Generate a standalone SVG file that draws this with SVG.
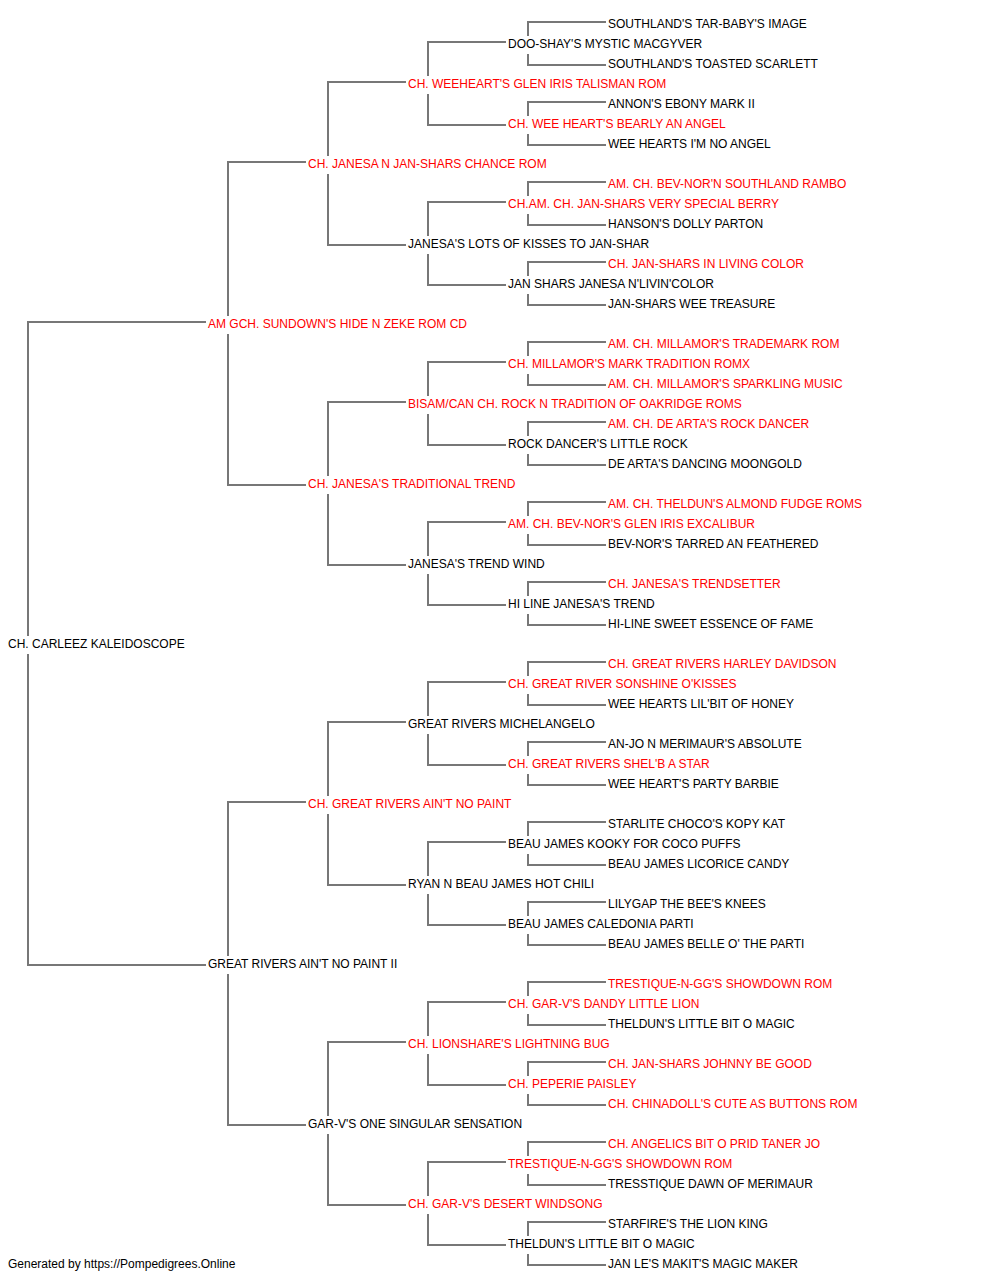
<svg xmlns="http://www.w3.org/2000/svg" width="1000" height="1280" viewBox="0 0 1000 1280">
<style>
text{font-family:"Liberation Sans",Arial,sans-serif;font-size:12px}
.r{fill:#ff0000}
.b{fill:#000000}
.c path{fill:none;stroke:#777777;stroke-width:2}
</style>
<rect width="1000" height="1280" fill="#ffffff"/>
<g id="connectors" class="c">
<path d="M28,636V322H206M28,654V965H206"/>
<path d="M228,316V162H306M228,334V485H306"/>
<path d="M228,956V802H306M228,974V1125H306"/>
<path d="M328,156V82H406M328,174V245H406"/>
<path d="M328,476V402H406M328,494V565H406"/>
<path d="M328,796V722H406M328,814V885H406"/>
<path d="M328,1116V1042H406M328,1134V1205H406"/>
<path d="M428,76V42H506M428,94V125H506"/>
<path d="M428,236V202H506M428,254V285H506"/>
<path d="M428,396V362H506M428,414V445H506"/>
<path d="M428,556V522H506M428,574V605H506"/>
<path d="M428,716V682H506M428,734V765H506"/>
<path d="M428,876V842H506M428,894V925H506"/>
<path d="M428,1036V1002H506M428,1054V1085H506"/>
<path d="M428,1196V1162H506M428,1214V1245H506"/>
<path d="M528,36V22H606M528,54V65H606"/>
<path d="M528,116V102H606M528,134V145H606"/>
<path d="M528,196V182H606M528,214V225H606"/>
<path d="M528,276V262H606M528,294V305H606"/>
<path d="M528,356V342H606M528,374V385H606"/>
<path d="M528,436V422H606M528,454V465H606"/>
<path d="M528,516V502H606M528,534V545H606"/>
<path d="M528,596V582H606M528,614V625H606"/>
<path d="M528,676V662H606M528,694V705H606"/>
<path d="M528,756V742H606M528,774V785H606"/>
<path d="M528,836V822H606M528,854V865H606"/>
<path d="M528,916V902H606M528,934V945H606"/>
<path d="M528,996V982H606M528,1014V1025H606"/>
<path d="M528,1076V1062H606M528,1094V1105H606"/>
<path d="M528,1156V1142H606M528,1174V1185H606"/>
<path d="M528,1236V1222H606M528,1254V1265H606"/>
</g>
<g id="n0"><text x="608" y="28" class="b">SOUTHLAND'S TAR-BABY'S IMAGE</text></g>
<g id="n1"><text x="508" y="48" class="b">DOO-SHAY'S MYSTIC MACGYVER</text></g>
<g id="n2"><text x="608" y="68" class="b">SOUTHLAND'S TOASTED SCARLETT</text></g>
<g id="n3"><text x="408" y="88" class="r">CH. WEEHEART'S GLEN IRIS TALISMAN ROM</text></g>
<g id="n4"><text x="608" y="108" class="b">ANNON'S EBONY MARK II</text></g>
<g id="n5"><text x="508" y="128" class="r">CH. WEE HEART'S BEARLY AN ANGEL</text></g>
<g id="n6"><text x="608" y="148" class="b">WEE HEARTS I'M NO ANGEL</text></g>
<g id="n7"><text x="308" y="168" class="r">CH. JANESA N JAN-SHARS CHANCE ROM</text></g>
<g id="n8"><text x="608" y="188" class="r">AM. CH. BEV-NOR'N SOUTHLAND RAMBO</text></g>
<g id="n9"><text x="508" y="208" class="r">CH.AM. CH. JAN-SHARS VERY SPECIAL BERRY</text></g>
<g id="n10"><text x="608" y="228" class="b">HANSON'S DOLLY PARTON</text></g>
<g id="n11"><text x="408" y="248" class="b">JANESA'S LOTS OF KISSES TO JAN-SHAR</text></g>
<g id="n12"><text x="608" y="268" class="r">CH. JAN-SHARS IN LIVING COLOR</text></g>
<g id="n13"><text x="508" y="288" class="b">JAN SHARS JANESA N'LIVIN'COLOR</text></g>
<g id="n14"><text x="608" y="308" class="b">JAN-SHARS WEE TREASURE</text></g>
<g id="n15"><text x="208" y="328" class="r">AM GCH. SUNDOWN'S HIDE N ZEKE ROM CD</text></g>
<g id="n16"><text x="608" y="348" class="r">AM. CH. MILLAMOR'S TRADEMARK ROM</text></g>
<g id="n17"><text x="508" y="368" class="r">CH. MILLAMOR'S MARK TRADITION ROMX</text></g>
<g id="n18"><text x="608" y="388" class="r">AM. CH. MILLAMOR'S SPARKLING MUSIC</text></g>
<g id="n19"><text x="408" y="408" class="r">BISAM/CAN CH. ROCK N TRADITION OF OAKRIDGE ROMS</text></g>
<g id="n20"><text x="608" y="428" class="r">AM. CH. DE ARTA'S ROCK DANCER</text></g>
<g id="n21"><text x="508" y="448" class="b">ROCK DANCER'S LITTLE ROCK</text></g>
<g id="n22"><text x="608" y="468" class="b">DE ARTA'S DANCING MOONGOLD</text></g>
<g id="n23"><text x="308" y="488" class="r">CH. JANESA'S TRADITIONAL TREND</text></g>
<g id="n24"><text x="608" y="508" class="r">AM. CH. THELDUN'S ALMOND FUDGE ROMS</text></g>
<g id="n25"><text x="508" y="528" class="r">AM. CH. BEV-NOR'S GLEN IRIS EXCALIBUR</text></g>
<g id="n26"><text x="608" y="548" class="b">BEV-NOR'S TARRED AN FEATHERED</text></g>
<g id="n27"><text x="408" y="568" class="b">JANESA'S TREND WIND</text></g>
<g id="n28"><text x="608" y="588" class="r">CH. JANESA'S TRENDSETTER</text></g>
<g id="n29"><text x="508" y="608" class="b">HI LINE JANESA'S TREND</text></g>
<g id="n30"><text x="608" y="628" class="b">HI-LINE SWEET ESSENCE OF FAME</text></g>
<g id="n31"><text x="8" y="648" class="b">CH. CARLEEZ KALEIDOSCOPE</text></g>
<g id="n32"><text x="608" y="668" class="r">CH. GREAT RIVERS HARLEY DAVIDSON</text></g>
<g id="n33"><text x="508" y="688" class="r">CH. GREAT RIVER SONSHINE O'KISSES</text></g>
<g id="n34"><text x="608" y="708" class="b">WEE HEARTS LIL'BIT OF HONEY</text></g>
<g id="n35"><text x="408" y="728" class="b">GREAT RIVERS MICHELANGELO</text></g>
<g id="n36"><text x="608" y="748" class="b">AN-JO N MERIMAUR'S ABSOLUTE</text></g>
<g id="n37"><text x="508" y="768" class="r">CH. GREAT RIVERS SHEL'B A STAR</text></g>
<g id="n38"><text x="608" y="788" class="b">WEE HEART'S PARTY BARBIE</text></g>
<g id="n39"><text x="308" y="808" class="r">CH. GREAT RIVERS AIN'T NO PAINT</text></g>
<g id="n40"><text x="608" y="828" class="b">STARLITE CHOCO'S KOPY KAT</text></g>
<g id="n41"><text x="508" y="848" class="b">BEAU JAMES KOOKY FOR COCO PUFFS</text></g>
<g id="n42"><text x="608" y="868" class="b">BEAU JAMES LICORICE CANDY</text></g>
<g id="n43"><text x="408" y="888" class="b">RYAN N BEAU JAMES HOT CHILI</text></g>
<g id="n44"><text x="608" y="908" class="b">LILYGAP THE BEE'S KNEES</text></g>
<g id="n45"><text x="508" y="928" class="b">BEAU JAMES CALEDONIA PARTI</text></g>
<g id="n46"><text x="608" y="948" class="b">BEAU JAMES BELLE O' THE PARTI</text></g>
<g id="n47"><text x="208" y="968" class="b">GREAT RIVERS AIN'T NO PAINT II</text></g>
<g id="n48"><text x="608" y="988" class="r">TRESTIQUE-N-GG'S SHOWDOWN ROM</text></g>
<g id="n49"><text x="508" y="1008" class="r">CH. GAR-V'S DANDY LITTLE LION</text></g>
<g id="n50"><text x="608" y="1028" class="b">THELDUN'S LITTLE BIT O MAGIC</text></g>
<g id="n51"><text x="408" y="1048" class="r">CH. LIONSHARE'S LIGHTNING BUG</text></g>
<g id="n52"><text x="608" y="1068" class="r">CH. JAN-SHARS JOHNNY BE GOOD</text></g>
<g id="n53"><text x="508" y="1088" class="r">CH. PEPERIE PAISLEY</text></g>
<g id="n54"><text x="608" y="1108" class="r">CH. CHINADOLL'S CUTE AS BUTTONS ROM</text></g>
<g id="n55"><text x="308" y="1128" class="b">GAR-V'S ONE SINGULAR SENSATION</text></g>
<g id="n56"><text x="608" y="1148" class="r">CH. ANGELICS BIT O PRID TANER JO</text></g>
<g id="n57"><text x="508" y="1168" class="r">TRESTIQUE-N-GG'S SHOWDOWN ROM</text></g>
<g id="n58"><text x="608" y="1188" class="b">TRESSTIQUE DAWN OF MERIMAUR</text></g>
<g id="n59"><text x="408" y="1208" class="r">CH. GAR-V'S DESERT WINDSONG</text></g>
<g id="n60"><text x="608" y="1228" class="b">STARFIRE'S THE LION KING</text></g>
<g id="n61"><text x="508" y="1248" class="b">THELDUN'S LITTLE BIT O MAGIC</text></g>
<g id="n62"><text x="608" y="1268" class="b">JAN LE'S MAKIT'S MAGIC MAKER</text></g>
<g id="footer"><text x="8" y="1268" class="b">Generated by https://Pompedigrees.Online</text></g>
</svg>
